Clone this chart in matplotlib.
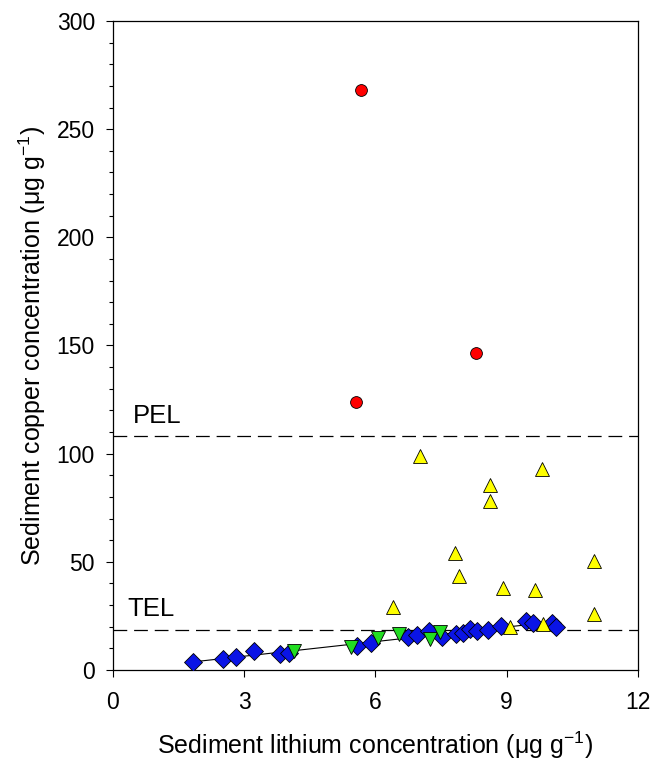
import numpy as np
import matplotlib
matplotlib.use('Agg')
import matplotlib.pyplot as plt
from matplotlib.ticker import MultipleLocator

plt.rcParams['font.family'] = ['Liberation Sans', 'DejaVu Sans']
plt.rcParams['mathtext.fontset'] = 'custom'
plt.rcParams['mathtext.rm'] = 'Liberation Sans'
plt.rcParams['mathtext.default'] = 'regular'

# guideline values (ug/g)
PEL = 108.0
TEL = 18.7

# red circles
red_x = [5.67, 8.30, 5.55]
red_y = [268.2, 146.4, 123.9]

# yellow up-triangles
yel_x = [7.02, 9.81, 8.61, 8.61, 7.81, 7.92, 10.99, 8.91, 9.65, 11.00, 9.08, 9.82, 6.41]
yel_y = [98.9, 92.9, 85.4, 78.1, 54.2, 43.5, 50.4, 37.8, 37.0, 25.7, 19.7, 21.3, 29.0]

# green down-triangles
grn_x = [4.14, 5.45, 6.05, 6.53, 7.25, 7.47]
grn_y = [8.9, 10.8, 14.8, 16.6, 14.5, 17.7]

# blue diamonds
blu_x = [1.82, 2.52, 2.81, 3.22, 3.82, 4.03, 5.57, 5.90, 6.75, 6.94, 7.23, 7.53,
         7.84, 8.01, 8.16, 8.33, 8.58, 8.88, 9.45, 9.61, 10.03, 10.12]
blu_y = [3.6, 4.9, 5.9, 8.8, 7.4, 7.7, 11.1, 12.6, 15.1, 16.2, 18.2, 15.4,
         16.6, 17.2, 18.8, 18.0, 18.5, 20.3, 22.8, 21.9, 21.9, 19.7]

fig = plt.figure(figsize=(6.67, 7.63), dpi=100)
ax = fig.add_axes([0.1694, 0.1219, 0.7871, 0.8506])

# regression of blue points
b, a = np.polyfit(blu_x, blu_y, 1)
xf = np.array([min(blu_x), max(blu_x)])
ax.plot(xf, a + b*xf, color='black', lw=0.8, zorder=2)

dash = (0, (11, 5.5))
ax.axhline(PEL, color='black', lw=0.9, ls=dash, zorder=1)
ax.axhline(TEL, color='black', lw=0.9, ls=dash, zorder=1)

kw = dict(markeredgecolor='black', markeredgewidth=0.6, ls='none', zorder=3)
ax.plot(blu_x, blu_y, 'D', color='#0a14e6', markersize=9, **kw)
ax.plot(grn_x, grn_y, 'v', color='#22dd22', markersize=10, **kw)
ax.plot(yel_x, yel_y, '^', color='#ffff00', markersize=10, **kw)
ax.plot(red_x, red_y, 'o', color='#ff0000', markersize=8.5, **kw)

ax.text(0.45, 112, 'PEL', fontsize=18.5, va='bottom', ha='left')
ax.text(0.33, 22.5, 'TEL', fontsize=18.5, va='bottom', ha='left')

ax.set_xlim(0, 12)
ax.set_ylim(0, 300)
ax.xaxis.set_major_locator(MultipleLocator(3))
ax.yaxis.set_major_locator(MultipleLocator(50))
ax.yaxis.set_minor_locator(MultipleLocator(10))
ax.tick_params(axis='both', which='major', length=5, width=0.8, labelsize=16.5, direction='out')
ax.tick_params(axis='x', which='major', pad=10)
ax.tick_params(axis='y', which='major', pad=8)
ax.tick_params(axis='y', which='minor', length=3, width=0.8, direction='out')
for s in ax.spines.values():
    s.set_linewidth(0.9)

ax.set_xlabel('Sediment lithium concentration (μg g$^{-1}$)', fontsize=18, labelpad=11)
ax.set_ylabel('Sediment copper concentration (μg g$^{-1}$)', fontsize=18, labelpad=6)

fig.savefig('out.png', dpi=100)
